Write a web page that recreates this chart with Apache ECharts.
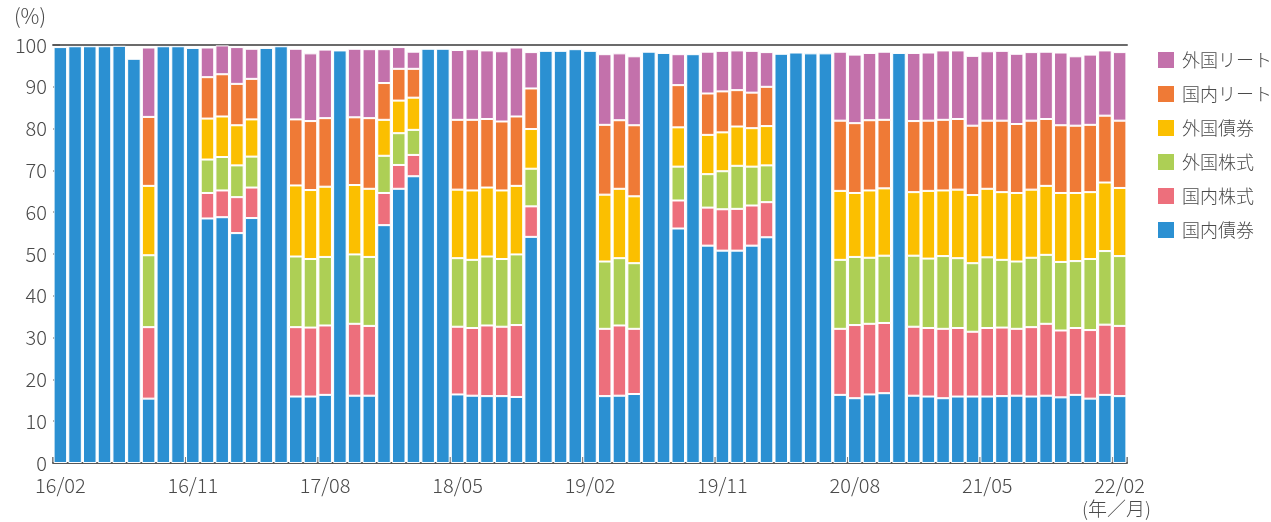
<!DOCTYPE html>
<html>
<head>
<meta charset="utf-8">
<script src="https://cdn.jsdelivr.net/npm/echarts@6/dist/echarts.min.js"></script>
<style>
  html, body { margin: 0; padding: 0; background: #fff; }
  #chart { width: 1271px; height: 522px; }
</style>
</head>
<body>
<div id="chart"></div>
<script>
// Monthly asset allocation (%), 2016/02 - 2022/02
const months = [
  '16/02','16/03','16/04','16/05','16/06','16/07','16/08','16/09','16/10','16/11','16/12',
  '17/01','17/02','17/03','17/04','17/05','17/06','17/07','17/08','17/09','17/10','17/11','17/12',
  '18/01','18/02','18/03','18/04','18/05','18/06','18/07','18/08','18/09','18/10','18/11','18/12',
  '19/01','19/02','19/03','19/04','19/05','19/06','19/07','19/08','19/09','19/10','19/11','19/12',
  '20/01','20/02','20/03','20/04','20/05','20/06','20/07','20/08','20/09','20/10','20/11','20/12',
  '21/01','21/02','21/03','21/04','21/05','21/06','21/07','21/08','21/09','21/10','21/11','21/12',
  '22/01','22/02'
];

const domesticBonds = [
  99.5, 99.7, 99.7, 99.7, 99.8, 96.7, 15.4, 99.7, 99.7, 99.3,
  58.5, 58.8, 55.0, 58.6, 99.3, 99.7, 15.9, 15.9, 16.3, 98.7,
  16.1, 16.1, 56.9, 65.6, 68.6, 99.1, 99.1, 16.4, 16.1, 16.0,
  16.0, 15.8, 54.1, 98.6, 98.6, 99.0, 98.6, 16.0, 16.1, 16.5,
  98.4, 98.1, 56.1, 97.8, 52.0, 50.8, 50.8, 52.0, 54.0, 97.9,
  98.2, 98.0, 98.0, 16.3, 15.5, 16.4, 16.7, 98.1, 16.1, 15.9,
  15.5, 15.9, 15.9, 15.9, 16.0, 16.1, 15.9, 16.1, 15.7, 16.3,
  15.4, 16.3, 16.0
];
const domesticStocks = [
  0, 0, 0, 0, 0, 0, 17.1, 0, 0, 0,
  6.1, 6.4, 8.6, 7.3, 0, 0, 16.6, 16.5, 16.6, 0,
  17.2, 16.7, 7.7, 5.7, 5.1, 0, 0, 16.2, 16.2, 16.9,
  16.6, 17.2, 7.3, 0, 0, 0, 0, 16.1, 16.8, 15.6,
  0, 0, 6.7, 0, 9.1, 9.9, 10.0, 9.6, 8.4, 0,
  0, 0, 0, 15.8, 17.5, 16.9, 16.8, 0, 16.5, 16.4,
  16.6, 16.4, 15.5, 16.4, 16.4, 16.0, 16.6, 17.2, 16.0, 16.0,
  16.4, 16.8, 16.8
];
const foreignStocks = [
  0, 0, 0, 0, 0, 0, 17.2, 0, 0, 0,
  8.0, 8.0, 7.6, 7.4, 0, 0, 16.9, 16.4, 16.4, 0,
  16.6, 16.5, 8.9, 7.6, 6.0, 0, 0, 16.4, 16.3, 16.5,
  16.2, 16.9, 9.0, 0, 0, 0, 0, 16.1, 16.1, 15.7,
  0, 0, 8.1, 0, 8.0, 9.1, 10.3, 9.3, 8.8, 0,
  0, 0, 0, 16.5, 16.3, 15.8, 16.1, 0, 17.0, 16.6,
  17.4, 16.7, 16.4, 16.9, 16.2, 16.1, 16.6, 16.5, 16.4, 16.0,
  17.0, 17.6, 16.7
];
const foreignBonds = [
  0, 0, 0, 0, 0, 0, 16.6, 0, 0, 0,
  9.8, 9.7, 9.6, 8.9, 0, 0, 17.0, 16.5, 16.8, 0,
  16.6, 16.3, 8.6, 7.8, 7.7, 0, 0, 16.4, 16.6, 16.5,
  16.4, 16.4, 9.5, 0, 0, 0, 0, 16.0, 16.6, 16.0,
  0, 0, 9.4, 0, 9.4, 9.3, 9.4, 9.2, 9.4, 0,
  0, 0, 0, 16.5, 15.3, 16.1, 16.1, 0, 15.2, 16.2,
  15.7, 16.4, 16.3, 16.4, 16.2, 16.4, 16.3, 16.5, 16.5, 16.3,
  16.0, 16.4, 16.3
];
const domesticReits = [
  0, 0, 0, 0, 0, 0, 16.5, 0, 0, 0,
  9.9, 10.1, 9.9, 9.7, 0, 0, 15.8, 16.5, 16.4, 0,
  16.2, 16.9, 8.8, 7.6, 6.9, 0, 0, 16.7, 16.9, 16.4,
  16.5, 16.6, 9.7, 0, 0, 0, 0, 16.7, 16.4, 17.0,
  0, 0, 10.1, 0, 9.9, 9.8, 8.7, 8.5, 9.4, 0,
  0, 0, 0, 16.8, 16.7, 16.8, 16.4, 0, 17.0, 16.8,
  16.9, 16.9, 16.6, 16.3, 17.1, 16.5, 16.5, 16.0, 16.2, 16.1,
  16.1, 16.0, 16.1
];
const foreignReits = [
  0, 0, 0, 0, 0, 0, 16.6, 0, 0, 0,
  7.1, 6.9, 8.8, 7.2, 0, 0, 16.9, 16.2, 16.4, 0,
  16.4, 16.5, 8.1, 5.2, 4.1, 0, 0, 16.7, 16.9, 16.4,
  16.8, 16.5, 8.7, 0, 0, 0, 0, 16.9, 16.0, 16.5,
  0, 0, 7.4, 0, 10.0, 9.7, 9.5, 10.0, 8.3, 0,
  0, 0, 0, 16.5, 16.4, 16.1, 16.3, 0, 16.3, 16.3,
  16.6, 16.4, 16.7, 16.6, 16.7, 16.8, 16.4, 16.1, 17.4, 16.6,
  16.8, 15.6, 16.4
];

const yTicks = { min: 0, max: 100, interval: 10 };

const seriesDefs = [
  { name: '国内債券', data: domesticBonds,  color: '#2b90d2' },
  { name: '国内株式', data: domesticStocks, color: '#ed6f7c' },
  { name: '外国株式', data: foreignStocks,  color: '#adcf55' },
  { name: '外国債券', data: foreignBonds,   color: '#fbbf00' },
  { name: '国内リート', data: domesticReits, color: '#ef7a36' },
  { name: '外国リート', data: foreignReits,  color: '#c371ab' }
];

const FONT = '"Noto Sans CJK JP", "Noto Sans", sans-serif';
const TEXT = '#4a4a4a';
const AXIS = '#555';

const chart = echarts.init(document.getElementById('chart'), null, { renderer: 'canvas' });

chart.setOption({
  animation: false,
  backgroundColor: '#fff',
  textStyle: { fontFamily: FONT },
  grid: { left: 53, right: 144, top: 45, bottom: 59, containLabel: false },
  legend: {
    orient: 'vertical',
    left: 1151,
    top: 45,
    itemWidth: 18,
    itemHeight: 18,
    itemGap: 14,
    icon: 'rect',
    textStyle: { fontFamily: FONT, fontSize: 18, fontWeight: 300, color: TEXT, padding: [0, 0, 0, 2] },
    data: ['外国リート', '国内リート', '外国債券', '外国株式', '国内株式', '国内債券']
  },
  xAxis: [
    {
      type: 'category',
      data: months,
      boundaryGap: true,
      axisLine: { show: true, lineStyle: { color: AXIS, width: 2 } },
      axisTick: { show: true, inside: true, length: 6, interval: 8, lineStyle: { color: AXIS, width: 1.5 } },
      axisLabel: { interval: 8, fontSize: 20, fontWeight: 300, color: TEXT, margin: 12, fontFamily: FONT },
      splitLine: { show: false }
    },
    {
      type: 'category',
      data: months,
      position: 'top',
      axisLine: { show: true, lineStyle: { color: '#6b6b6b', width: 2 } },
      axisTick: { show: false },
      axisLabel: { show: false },
      splitLine: { show: false }
    }
  ],
  yAxis: {
    type: 'value',
    min: yTicks.min,
    max: yTicks.max,
    interval: yTicks.interval,
    axisLine: { show: false },
    axisTick: { show: true, inside: true, length: 7, lineStyle: { color: AXIS, width: 1.5 } },
    axisLabel: { fontSize: 20, fontWeight: 300, color: TEXT, margin: 6, fontFamily: FONT },
    splitLine: { show: false }
  },
  graphic: [
    {
      type: 'text', left: 14, top: 6,
      style: { text: '(%)', fontSize: 21, fontWeight: 300, fill: TEXT, fontFamily: FONT }
    },
    {
      type: 'text', left: 1082, top: 499,
      style: { text: '(年／月)', fontSize: 19, fontWeight: 300, fill: TEXT, fontFamily: FONT }
    }
  ],
  series: seriesDefs.map(s => ({
    name: s.name,
    type: 'bar',
    stack: 'total',
    xAxisIndex: 0,
    barCategoryGap: '8%',
    itemStyle: { color: s.color, borderColor: '#fff', borderWidth: 1 },
    emphasis: { disabled: true },
    data: s.data.map(v => (v === 0 ? '-' : v))
  }))
});
</script>
</body>
</html>
